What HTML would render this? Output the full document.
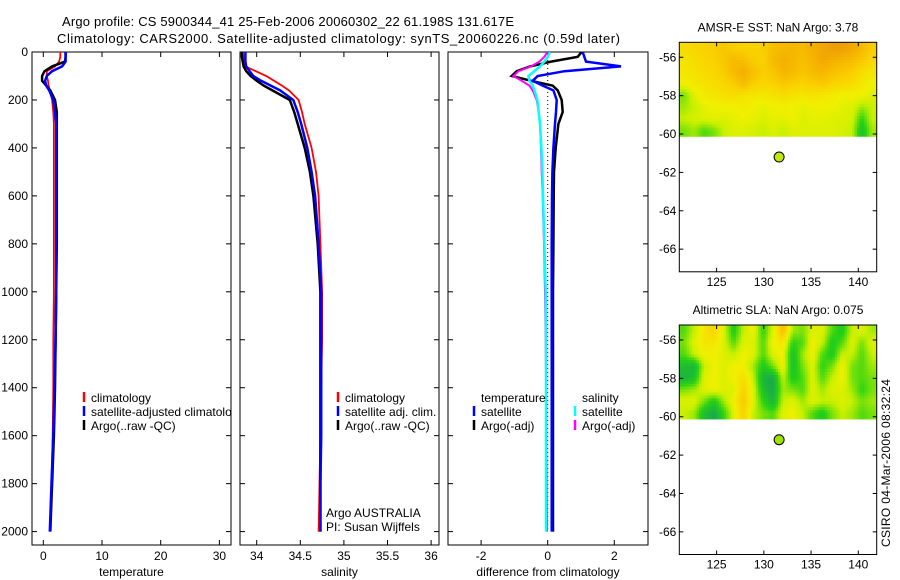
<!DOCTYPE html>
<html><head><meta charset="utf-8"><style>
body{margin:0;background:#fff}
svg{display:block;font-family:"Liberation Sans",sans-serif}
text{font-size:12px;fill:#000}
</style></head><body>
<svg id="fig" width="900" height="580" viewBox="0 0 900 580" xmlns="http://www.w3.org/2000/svg">
<defs>
<clipPath id="c1"><rect x="32" y="52" width="199" height="493"/></clipPath>
<clipPath id="c2"><rect x="240" y="52" width="199" height="493"/></clipPath>
<clipPath id="c3"><rect x="448" y="52" width="200" height="493"/></clipPath>
</defs>
<text x="62" y="26" style="font-size:13px" textLength="452">Argo profile: CS 5900344_41 25-Feb-2006 20060302_22 61.198S 131.617E</text>
<text x="57" y="43" style="font-size:13px" textLength="563">Climatology: CARS2000. Satellite-adjusted climatology: synTS_20060226.nc (0.59d later)</text>
<g id="g"></g>
<text transform="translate(890,547) rotate(-90)" textLength="168">CSIRO 04-Mar-2006 08:32:24</text>
</svg>
<script>
const depths=[0,20,40,60,80,100,120,140,160,200,250,300,400,500,600,800,1000,1200,1400,1600,1800,2000];
const argoT=[3.8,3.8,3.7,1.5,0.2,-0.2,-0.2,0.5,1.2,2.0,2.3,2.3,2.3,2.3,2.3,2.3,2.2,2.1,2.0,1.8,1.5,1.2];
const climT=[2.9,2.9,2.7,2.0,0.6,0.6,0.8,0.9,1.1,1.5,1.7,1.8,1.8,1.8,1.8,1.8,1.8,1.7,1.7,1.6,1.4,1.1];
const satT=[3.8,3.8,3.8,3.2,1.5,0.6,0.3,0.5,1.0,1.7,2.0,2.2,2.2,2.2,2.2,2.2,2.2,2.1,1.9,1.7,1.4,1.1];
const argoS=[33.83,33.83,33.84,33.85,33.88,33.93,34.0,34.08,34.18,34.38,34.43,34.47,34.55,34.61,34.65,34.70,34.73,34.73,34.73,34.73,34.73,34.73];
const climS=[33.84,33.85,33.86,33.87,33.99,34.11,34.2,34.29,34.37,34.48,34.52,34.55,34.63,34.68,34.71,34.73,34.75,34.75,34.74,34.73,34.72,34.71];
const satS=[33.87,33.87,33.87,33.88,33.92,33.96,34.05,34.16,34.27,34.42,34.47,34.51,34.58,34.63,34.67,34.71,34.74,34.74,34.74,34.74,34.73,34.73];
const dTsat=[1.05,1.1,1.15,2.2,0.5,-0.3,-0.45,-0.15,0.17,0.27,0.25,0.22,0.17,0.14,0.13,0.12,0.12,0.12,0.12,0.12,0.12,0.12];
const dTargo=[1.02,0.9,0.1,-0.53,-0.93,-1.08,-0.5,0.15,0.3,0.42,0.45,0.32,0.24,0.19,0.18,0.17,0.16,0.16,0.16,0.16,0.16,0.16];
const dSsat=[0.07,0.0,-0.1,-0.23,-0.4,-0.58,-0.55,-0.45,-0.4,-0.31,-0.27,-0.23,-0.19,-0.16,-0.14,-0.1,-0.06,-0.05,-0.05,-0.05,-0.05,-0.05];
const dSargo=[-0.01,-0.1,-0.25,-0.5,-0.88,-1.03,-0.78,-0.55,-0.45,-0.33,-0.27,-0.23,-0.2,-0.18,-0.15,-0.11,-0.08,-0.06,-0.05,-0.04,-0.03,-0.02];
const depthTicks=[0,200,400,600,800,1000,1200,1400,1600,1800,2000];
const tempTicks=[0,10,20,30];
const salTicks=[34,34.5,35,35.5,36];
const salTickLabels=["34","34.5","35","35.5","36"];
const diffTicks=[-2,0,2];
const latTicks=[-56,-58,-60,-62,-64,-66];
const lonTicks=[125,130,135,140];
const sstGrid=[
[.65,.68,.7,.72,.75,.72,.7,.7,.72,.78,.8,.82,.8,.85,.88,.92,.92,.88,.8,.72],
[.62,.65,.68,.7,.75,.8,.78,.72,.7,.8,.85,.82,.78,.82,.88,.85,.82,.8,.75,.68],
[.6,.62,.65,.68,.72,.8,.85,.78,.72,.75,.82,.8,.75,.8,.82,.78,.75,.72,.65,.6],
[.55,.6,.62,.65,.68,.72,.8,.72,.68,.7,.75,.72,.7,.72,.75,.7,.68,.65,.6,.55],
[.35,.5,.58,.6,.62,.65,.62,.6,.6,.62,.65,.62,.6,.62,.6,.58,.55,.55,.55,.5],
[.4,.45,.52,.55,.55,.55,.58,.55,.52,.55,.55,.55,.52,.55,.55,.55,.52,.5,.4,.45],
[.45,.48,.5,.52,.5,.52,.55,.52,.5,.52,.52,.55,.5,.52,.52,.5,.5,.48,.25,.45],
[.35,.4,.3,.35,.45,.5,.5,.48,.45,.5,.45,.5,.5,.5,.5,.5,.48,.45,.15,.4]];
const slaGrid=[
[.3,.45,.6,.7,.5,.2,.45,.55,.25,.5,.8,.4,.35,.5,.5,.3,.2,.45,.5,.4],
[.35,.5,.6,.6,.5,.3,.5,.5,.3,.55,.6,.25,.3,.55,.45,.2,.3,.5,.35,.5],
[.3,.45,.55,.55,.5,.45,.55,.5,.3,.5,.55,.15,.4,.55,.3,.2,.45,.45,.3,.45],
[.15,.1,.45,.55,.5,.55,.55,.4,.2,.35,.55,.15,.35,.5,.25,.35,.55,.35,.3,.4],
[.1,.15,.5,.55,.5,.55,.65,.45,.1,.05,.45,.2,.3,.5,.3,.45,.55,.35,.3,.35],
[.35,.4,.5,.55,.5,.5,.7,.5,.15,.05,.4,.35,.3,.5,.4,.5,.5,.4,.25,.35],
[.5,.5,.35,.2,.4,.55,.75,.5,.25,.1,.45,.5,.4,.5,.45,.45,.5,.45,.35,.4],
[.45,.4,.15,.05,.25,.5,.7,.45,.35,.3,.5,.55,.45,.3,.2,.35,.45,.4,.3,.35]];
const floatLon=131.617, floatLat=-61.198;

const NS="http://www.w3.org/2000/svg";
const G=document.getElementById('g');
function mk(tag,at,parent){const e=document.createElementNS(NS,tag);for(const k in at)e.setAttribute(k,at[k]);(parent||G).appendChild(e);return e;}
function txt(x,y,s,anchor,parent){const t=mk('text',{x:x,y:y,'text-anchor':anchor||'start'},parent);t.textContent=s;return t;}
const yD=d=>52+d*0.2398;
const xT=v=>43.3+v*5.87, xS=v=>256.7+(v-34)*87.2, xD=v=>547.7+v*33.3;
const panels=[{x0:32,x1:231,sx:xT,ticks:tempTicks,labels:tempTicks.map(String),title:'temperature',name:'temperature-panel'},
{x0:240,x1:439,sx:xS,ticks:salTicks,labels:salTickLabels,title:'salinity',name:'salinity-panel'},
{x0:448,x1:648,sx:xD,ticks:diffTicks,labels:diffTicks.map(String),title:'difference from climatology',name:'difference-panel'}];
panels.forEach((p,i)=>{
  const g=mk('g',{});
  
  
  mk('rect',{x:p.x0,y:52,width:p.x1-p.x0,height:493,fill:'#fff',stroke:'#000','stroke-width':1},g);
  depthTicks.forEach(d=>{const y=yD(d);
    mk('line',{x1:p.x0,x2:p.x0+5,y1:y,y2:y,stroke:'#000'},g);
    mk('line',{x1:p.x1,x2:p.x1-5,y1:y,y2:y,stroke:'#000'},g);
    if(i===0){const t=txt(p.x0-4,y+4,String(d),'end',g);}
  });
  p.ticks.forEach((v,j)=>{const x=p.sx(v);
    mk('line',{x1:x,x2:x,y1:545,y2:540,stroke:'#000'},g);
    mk('line',{x1:x,x2:x,y1:52,y2:57,stroke:'#000'},g);
    const t=txt(x,560,p.labels[j],'middle',g);
    
    
  });
  const xt=txt((p.x0+p.x1)/2,576,p.title,'middle',g);
  
  
});
function series(vals,sx,color,clip,name,w){
  const pts=vals.map((v,i)=>sx(v).toFixed(1)+','+yD(depths[i]).toFixed(1)).join(' ');
  const l=mk('polyline',{points:pts,fill:'none',stroke:color,'stroke-width':w||2,'clip-path':'url(#'+clip+')'});
  
  
}
series(climT,xT,'#f00','c1','temp-climatology-line',1.8);
series(argoT,xT,'#000','c1','temp-argo-line',2.5);
series(satT,xT,'#00f','c1','temp-satellite-line',2.5);
series(climS,xS,'#f00','c2','sal-climatology-line',1.8);
series(argoS,xS,'#000','c2','sal-argo-line',2.5);
series(satS,xS,'#00f','c2','sal-satellite-line',2.5);
mk('line',{x1:xD(0),x2:xD(0),y1:yD(0),y2:yD(2000),stroke:'#000','stroke-dasharray':'1,3'});
series(dTargo,xD,'#000','c3','diff-temp-argo-line',2.5);
series(dTsat,xD,'#00f','c3','diff-temp-satellite-line',2.5);
series(dSargo,xD,'#f0f','c3','diff-sal-argo-line');
series(dSsat,xD,'#0ff','c3','diff-sal-satellite-line',2.5);
function legend(x,y,color,label,clip){
  const g=mk('g',clip?{'clip-path':'url(#'+clip+')'}:{});
  
  
  mk('line',{x1:x,x2:x,y1:y-10,y2:y,stroke:color,'stroke-width':2.5},g);
  txt(x+7,y,label,'start',g);
}
legend(84,402,'#f00','climatology','c1');
legend(84,416,'#00f','satellite-adjusted climatology','c1');
legend(84,430,'#000','Argo(..raw -QC)','c1');
legend(338,402,'#f00','climatology');
legend(338,416,'#00f','satellite adj. clim.');
legend(338,430,'#000','Argo(..raw -QC)');
{const t=txt(481,402,'temperature');}
{const t=txt(582,402,'salinity');}
legend(474,416,'#00f','satellite');
legend(474,430,'#000','Argo(-adj)');
legend(575,416,'#0ff','satellite');
legend(575,430,'#f0f','Argo(-adj)');
{const t=txt(326,517,'Argo AUSTRALIA');}
{const t=txt(326,531,'PI: Susan Wijffels');}

function cmap(v){
  const st=[[0,[20,160,90]],[0.25,[40,210,20]],[0.45,[200,240,0]],[0.55,[240,240,0]],[0.7,[250,210,0]],[0.85,[245,175,0]],[1,[230,140,20]]];
  if(v<=0)return 'rgb(20,160,90)';
  for(let i=1;i<st.length;i++){if(v<=st[i][0]){const a=st[i-1],b=st[i],f=(v-a[0])/(b[0]-a[0]);
    return 'rgb('+a[1].map((c,k)=>Math.round(c+(b[1][k]-c)*f)).join(',')+')';}}
  return 'rgb(230,140,20)';
}
function sample(grid,fi,fj){
  const rows=grid.length,cols=grid[0].length;
  fi=Math.max(0,Math.min(rows-1,fi));fj=Math.max(0,Math.min(cols-1,fj));
  const i0=Math.floor(fi),j0=Math.floor(fj),i1=Math.min(rows-1,i0+1),j1=Math.min(cols-1,j0+1);
  const a=fi-i0,b=fj-j0;
  return grid[i0][j0]*(1-a)*(1-b)+grid[i0][j1]*(1-a)*b+grid[i1][j0]*a*(1-b)+grid[i1][j1]*a*b;
}
function mapPanel(top,grid,title,name,dotColor){
  const x0=679.3,x1=876.7,bot=top+229.5;
  const latTop=-55.22,latBot=-67.18,lonL=121.05,lonR=141.95;
  const sx=lo=>x0+(lo-lonL)/(lonR-lonL)*(x1-x0);
  const sy=la=>top+(latTop-la)/(latTop-latBot)*(bot-top);
  const g=mk('g',{});
  
  
  mk('rect',{x:x0,y:top,width:x1-x0,height:bot-top,fill:'#fff'},g);
  const rows=grid.length,cols=grid[0].length,latEnd=-60.12,sub=4;
  const R=rows*sub,C=cols*sub;
  const lonStep=(lonR-lonL)/C,latStep=(latTop-latEnd)/R;
  for(let i=0;i<R;i++)for(let j=0;j<C;j++){
    const v=sample(grid,(i+0.5)/sub-0.5,(j+0.5)/sub-0.5);
    const xa=sx(lonL+j*lonStep),xb=sx(lonL+(j+1)*lonStep),ya=sy(latTop-i*latStep),yb=sy(latTop-(i+1)*latStep);
    const c=mk('rect',{x:xa.toFixed(2),y:ya.toFixed(2),width:(xb-xa+0.4).toFixed(2),height:(yb-ya+0.4).toFixed(2),fill:cmap(v)},g);
    
    
  }
  mk('rect',{x:x0,y:top,width:x1-x0,height:bot-top,fill:'none',stroke:'#000'},g);
  latTicks.forEach(la=>{const y=sy(la);
    mk('line',{x1:x0,x2:x0+4,y1:y,y2:y,stroke:'#000'},g);
    mk('line',{x1:x1,x2:x1-4,y1:y,y2:y,stroke:'#000'},g);
    const t=txt(x0-3,y+4,String(la),'end',g);
    
    
  });
  lonTicks.forEach(lo=>{const x=sx(lo);
    mk('line',{x1:x,x2:x,y1:bot,y2:bot-4,stroke:'#000'},g);
    mk('line',{x1:x,x2:x,y1:top,y2:top+4,stroke:'#000'},g);
    const t=txt(x,bot+14,String(lo),'middle',g);
    
    
  });
  const d=mk('circle',{cx:sx(floatLon),cy:sy(floatLat),r:5,fill:dotColor,stroke:'#000','stroke-width':1},g);
  
  
  const t=txt(778,top-11,title,'middle',g);
  
  
}
mapPanel(42.3,sstGrid,'AMSR-E SST: NaN Argo: 3.78','sst-map','#c0e800');
mapPanel(325,slaGrid,'Altimetric SLA: NaN Argo: 0.075','sla-map','#a0e000');
</script>
</body></html>
